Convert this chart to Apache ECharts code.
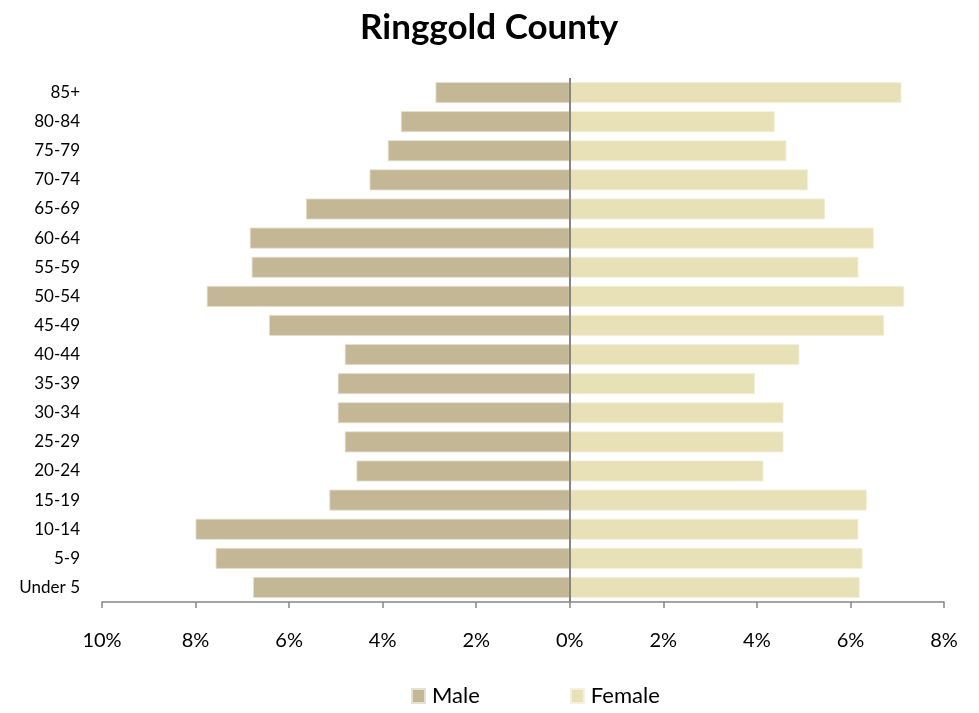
<!DOCTYPE html>
<html>
<head>
<meta charset="utf-8">
<script src="https://cdn.jsdelivr.net/npm/echarts@6/dist/echarts.min.js"></script>
<style>
html,body{margin:0;padding:0;background:#fff;}
#chart{width:979px;height:713px;}
</style>
</head>
<body>
<div id="chart"></div>
<script>
var categories = ['Under 5','5-9','10-14','15-19','20-24','25-29','30-34','35-39','40-44','45-49','50-54','55-59','60-64','65-69','70-74','75-79','80-84','85+'];
var maleValues = [6.77,7.57,8.00,5.14,4.56,4.81,4.96,4.96,4.81,6.43,7.76,6.80,6.84,5.64,4.28,3.89,3.61,2.87];
var femaleValues = [6.20,6.26,6.17,6.35,4.14,4.57,4.57,3.96,4.91,6.72,7.15,6.17,6.50,5.46,5.09,4.63,4.38,7.09];
var xTicks = [-10,-8,-6,-4,-2,0,2,4,6,8];

var chart = echarts.init(document.getElementById('chart'));
var font = 'Lato, "Open Sans", sans-serif';
chart.setOption({
  animation: false,
  title: {
    text: 'Ringgold County',
    left: 355,
    top: 5,
    textStyle: {fontFamily: font, fontWeight: 'bold', fontSize: 35, color: '#000'}
  },
  legend: {
    bottom: 1,
    left: 406,
    itemWidth: 13,
    itemHeight: 14,
    itemGap: 90,
    icon: 'rect',
    textStyle: {fontFamily: font, fontSize: 22, color: '#000', padding: [0, 0, 0, 2]},
    data: ['Male','Female']
  },
  grid: {left: 102, right: 35, top: 78, bottom: 111},
  xAxis: {
    type: 'value',
    min: -10,
    max: 8,
    interval: 2,
    axisLine: {show: true, lineStyle: {color: '#868686', width: 1.5}},
    axisTick: {show: true, length: 6, lineStyle: {color: '#868686', width: 1.5}},
    splitLine: {show: false},
    axisLabel: {
      margin: 29,
      fontFamily: font, fontSize: 20, color: '#000',
      formatter: function (v) { return Math.abs(v) + '%'; }
    }
  },
  yAxis: {
    type: 'category',
    data: categories,
    axisLine: {show: false},
    axisTick: {show: false},
    axisLabel: {margin: 22, fontFamily: font, fontSize: 17, color: '#000'}
  },
  series: [
    {
      name: 'Male',
      type: 'bar',
      stack: 'pop',
      barCategoryGap: '28%',
      data: maleValues.map(function (v) { return -v; }),
      itemStyle: {color: '#C4B796', borderColor: '#E6E0CF', borderWidth: 0.8},
      markLine: {
        silent: true,
        symbol: 'none',
        label: {show: false},
        lineStyle: {color: '#868686', width: 2, type: 'solid'},
        data: [{xAxis: 0}]
      }
    },
    {
      name: 'Female',
      type: 'bar',
      stack: 'pop',
      barCategoryGap: '28%',
      data: femaleValues,
      itemStyle: {color: '#E8E1B7', borderColor: '#F4F0DC', borderWidth: 0.8}
    }
  ]
});
</script>
</body>
</html>
